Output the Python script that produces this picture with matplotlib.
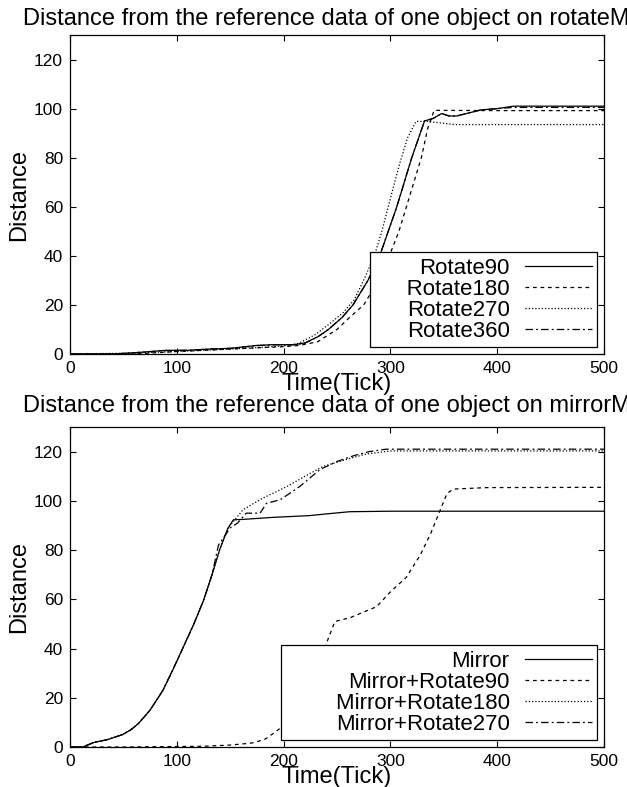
import numpy as np
import matplotlib
matplotlib.use('Agg')
import matplotlib.pyplot as plt

plt.rcParams['font.family'] = ['Liberation Sans', 'DejaVu Sans']

# ---- top panel: rotate ----
r90_x = [0, 40, 60, 90, 110, 130, 150, 175, 190, 210, 220, 232, 242, 255, 265, 279, 290,
         298, 306, 313, 320, 328, 332, 340, 348, 355, 362, 385, 400, 415, 500]
r90_y = [0, 0, 0.5, 1.5, 1.5, 2.0, 2.3, 3.5, 3.8, 3.8, 4.5, 7, 10, 15, 20, 30, 40,
         50, 60, 70, 80, 90, 95, 96, 98, 97, 97, 99.5, 100, 101, 101]

r180_x = [0, 60, 100, 150, 200, 215, 232, 250, 262, 275, 289, 299, 308, 315, 322, 329,
          335, 341, 400, 500]
r180_y = [0, 0, 1.0, 2.0, 3.0, 3.5, 5, 10, 15, 20, 30, 40, 50, 60, 70, 80,
          92, 99.3, 99.2, 99.2]

r270_x = [0, 50, 100, 150, 190, 205, 215, 230, 245, 256, 266, 276, 285, 292, 298, 304,
          309, 316, 324, 335, 360, 500]
r270_y = [0, 0.3, 1.0, 2.0, 3.0, 3.5, 4.5, 8, 13, 17, 22, 31, 40, 50, 60, 70,
          78, 88, 94.8, 94.8, 93.5, 93.5]

r360_x = [0, 40, 60, 90, 110, 130, 150, 175, 190, 210, 220, 232, 242, 255, 265, 279, 290,
          298, 306, 313, 320, 328, 332, 340, 348, 355, 362, 385, 400, 415, 500]
r360_y = [0, 0, 0.5, 1.4, 1.5, 2.0, 2.3, 3.4, 3.7, 3.8, 4.4, 7, 10, 15, 20, 30, 40,
          50, 60, 70, 80, 90, 95, 96, 98, 97, 97, 99.5, 100, 100.5, 100.5]

# ---- bottom panel: mirror ----
m_x = [0, 12, 22, 35, 49, 57, 64, 75, 87, 97, 106, 116, 125, 133, 140, 148, 153, 163,
       190, 224, 240, 262, 300, 500]
m_y = [0, 0, 1.8, 3.0, 5.0, 7.0, 9.5, 15, 23, 32, 40.5, 50, 59.5, 70, 80, 89, 92.3, 92.5,
       93.3, 94, 94.7, 95.6, 95.8, 95.8]

mr90_x = [0, 50, 100, 125, 150, 170, 182, 192, 201, 209, 220, 231, 240, 248, 262, 287,
          300, 315, 328, 338, 353, 359, 391, 500]
mr90_y = [0, 0, 0.2, 0.3, 0.8, 1.6, 3.0, 6, 9, 15, 21, 28.5, 42, 51, 52.5, 57,
          63, 69, 78, 87, 103, 104.8, 105.4, 105.5]

mr180_x = [0, 12, 22, 35, 49, 57, 64, 75, 87, 97, 106, 116, 125, 133, 140, 148, 162,
           180, 203, 220, 237, 260, 277, 300, 500]
mr180_y = [0, 0, 1.8, 3.0, 5.0, 7.0, 9.5, 15, 23, 32, 40.5, 50, 59.5, 70, 80, 89, 96.4,
           101, 105.8, 110, 114, 117, 119, 120.3, 120.3]

mr270_x = [0, 12, 22, 35, 49, 57, 64, 75, 87, 97, 106, 116, 125, 133, 139, 150, 157,
           165, 178, 184, 197, 215, 234, 250, 266, 280, 296, 500]
mr270_y = [0, 0, 1.8, 3.0, 5.0, 7.0, 9.5, 15, 23, 32, 40.5, 50, 59.5, 70, 82, 89, 91,
           95, 95, 99, 100.5, 105.8, 112.7, 116, 118.4, 120, 121, 121]

xticks = [0, 100, 200, 300, 400, 500]
yticks = [0, 20, 40, 60, 80, 100, 120]

solid = '-'
dashed = (0, (3.0, 3.0))
dotted = (0, (1.0, 1.6))
dashdot = (0, (6.0, 2.5, 1.5, 2.5))

fig = plt.figure(figsize=(6.27, 7.87), dpi=100)
ax1 = fig.add_axes([0.1116, 0.5502, 0.8517, 0.4053])
ax2 = fig.add_axes([0.1116, 0.0508, 0.8517, 0.4066])

lw = 0.9
ax1.plot(r90_x, r90_y, color='black', lw=lw, ls=solid, label='Rotate90')
ax1.plot(r180_x, r180_y, color='black', lw=lw, ls=dashed, label='     Rotate180')
ax1.plot(r270_x, r270_y, color='black', lw=lw, ls=dotted, label='Rotate270')
ax1.plot(r360_x, r360_y, color='black', lw=lw, ls=dashdot, label='Rotate360')

ax2.plot(m_x, m_y, color='black', lw=lw, ls=solid, label='Mirror')
ax2.plot(mr90_x, mr90_y, color='black', lw=lw, ls=dashed, label='Mirror+Rotate90')
ax2.plot(mr180_x, mr180_y, color='black', lw=lw, ls=dotted, label='        Mirror+Rotate180')
ax2.plot(mr270_x, mr270_y, color='black', lw=lw, ls=dashdot, label='Mirror+Rotate270')

titles = ['Distance from the reference data of one object on rotateMethod',
          'Distance from the reference data of one object on mirrorMethod']
title_y = [1 - 25 / 787, 1 - 412 / 787]

for ax, t, ty in zip([ax1, ax2], titles, title_y):
    ax.set_xlim(0, 500)
    ax.set_ylim(0, 130)
    ax.set_xticks(xticks)
    ax.set_yticks(yticks)
    ax.tick_params(direction='in', top=True, right=True, length=4, width=0.8,
                   labelsize=12.5, pad=5)
    for s in ax.spines.values():
        s.set_linewidth(0.9)
    ax.set_xlabel('Time(Tick)', fontsize=17, labelpad=-2)
    ax.set_ylabel('Distance', fontsize=17, labelpad=3)
    leg = ax.legend(loc='lower right', fontsize=16, markerfirst=False,
                    fancybox=False, edgecolor='black', framealpha=1,
                    handlelength=3.0, handletextpad=0.7, labelspacing=0.0,
                    borderpad=0.25, borderaxespad=0.3)
    leg.get_frame().set_linewidth(0.9)
    fig.text(23 / 627, ty, t, fontsize=17, ha='left', va='baseline')

fig.savefig('out.png', dpi=100)
